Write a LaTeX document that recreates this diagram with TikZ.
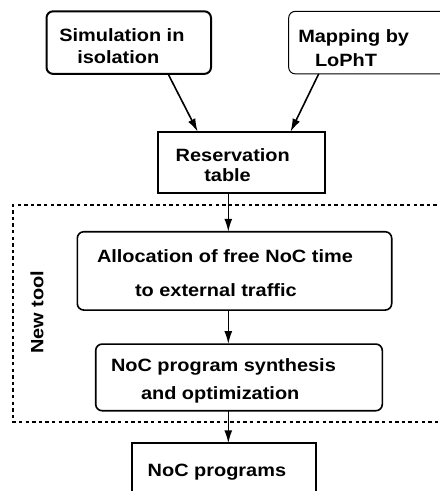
\documentclass[tikz,border=0pt]{standalone}
\usepackage{fontspec}
\setmainfont{Liberation Sans}[FakeStretch=1.12]
\usetikzlibrary{arrows.meta,calc}
\tikzset{
  box/.style={draw=black, inner sep=0pt, outer sep=0pt, line width=1.9pt},
  rbox/.style={box, rounded corners=6.5pt, line width=1.6pt},
  txt/.style={inner sep=0pt, outer sep=0pt, font=\fontsize{17.8}{20}\selectfont\bfseries, anchor=base west},
  arr/.style={line width=1.6pt, -{Latex[length=13pt,width=8pt]}},
  dashbox/.style={line width=1.5pt, dash pattern=on 3.4pt off 3.2pt}
}
\begin{document}
\begin{tikzpicture}[x=1pt,y=-1pt]
\clip (0,0) rectangle (440,491);
\fill[white] (0,0) rectangle (440,491);
% boxes
\node[rbox, line width=2pt, minimum width=164.5pt, minimum height=62.5pt] (B1) at (128.75,42.6) {};
\node[rbox, line width=1pt, minimum width=158pt, minimum height=62.5pt] (B2) at (367.7,42.6) {};
\node[box, minimum width=166.7pt, minimum height=61pt] (R) at (241.7,162.2) {};
\node[rbox, minimum width=314.4pt, minimum height=78.3pt] (A) at (234.5,270.9) {};
\node[rbox, minimum width=286.6pt, minimum height=66.7pt] (S) at (239,377.4) {};
\node[box, minimum width=184.3pt, minimum height=70pt] (P) at (223.9,478.3) {};
% dashed frame
\draw[dashbox] (450,205) -- (13,205) -- (13,422) -- (450,422);
% texts
\node[txt] (t1) at (59.3,41.7) {Simulation in};
\node[txt] (t2) at (77.3,63.3) {isolation};
\node[txt] (t3) at (298.3,42.8) {Mapping by};
\node[txt] (t4) at (315,66) {LoPhT};
\node[txt] (t5) at (175.7,161.7) {Reservation};
\node[txt] (t6) at (204.3,181) {table};
\node[txt] (t7) at (97,262.3) {Allocation of free NoC time};
\node[txt] (t8) at (135,296) {to external traffic};
\node[txt] (t9) at (111,371.7) {NoC program synthesis};
\node[txt] (t10) at (141,399.3) {and optimization};
\node[txt] (t11) at (147.7,476) {NoC programs};
\node[txt, rotate=90, anchor=base] (nt) at (43.3,312) {New tool};
% connectors
\coordinate (ax) at (228.3,0);
\draw[arr] ($(B1.south west)!0.739!(B1.south east)$) -- ($(R.north west)!0.236!(R.north east)$);
\draw[arr] ($(B2.south west)!0.19!(B2.south east)$) -- ($(R.north west)!0.793!(R.north east)$);
\draw[arr] (R.south -| ax) -- (A.north -| ax);
\draw[arr] (A.south -| ax) -- (S.north -| ax);
\draw[arr] (S.south -| ax) -- (P.north -| ax);
\end{tikzpicture}
\end{document}
